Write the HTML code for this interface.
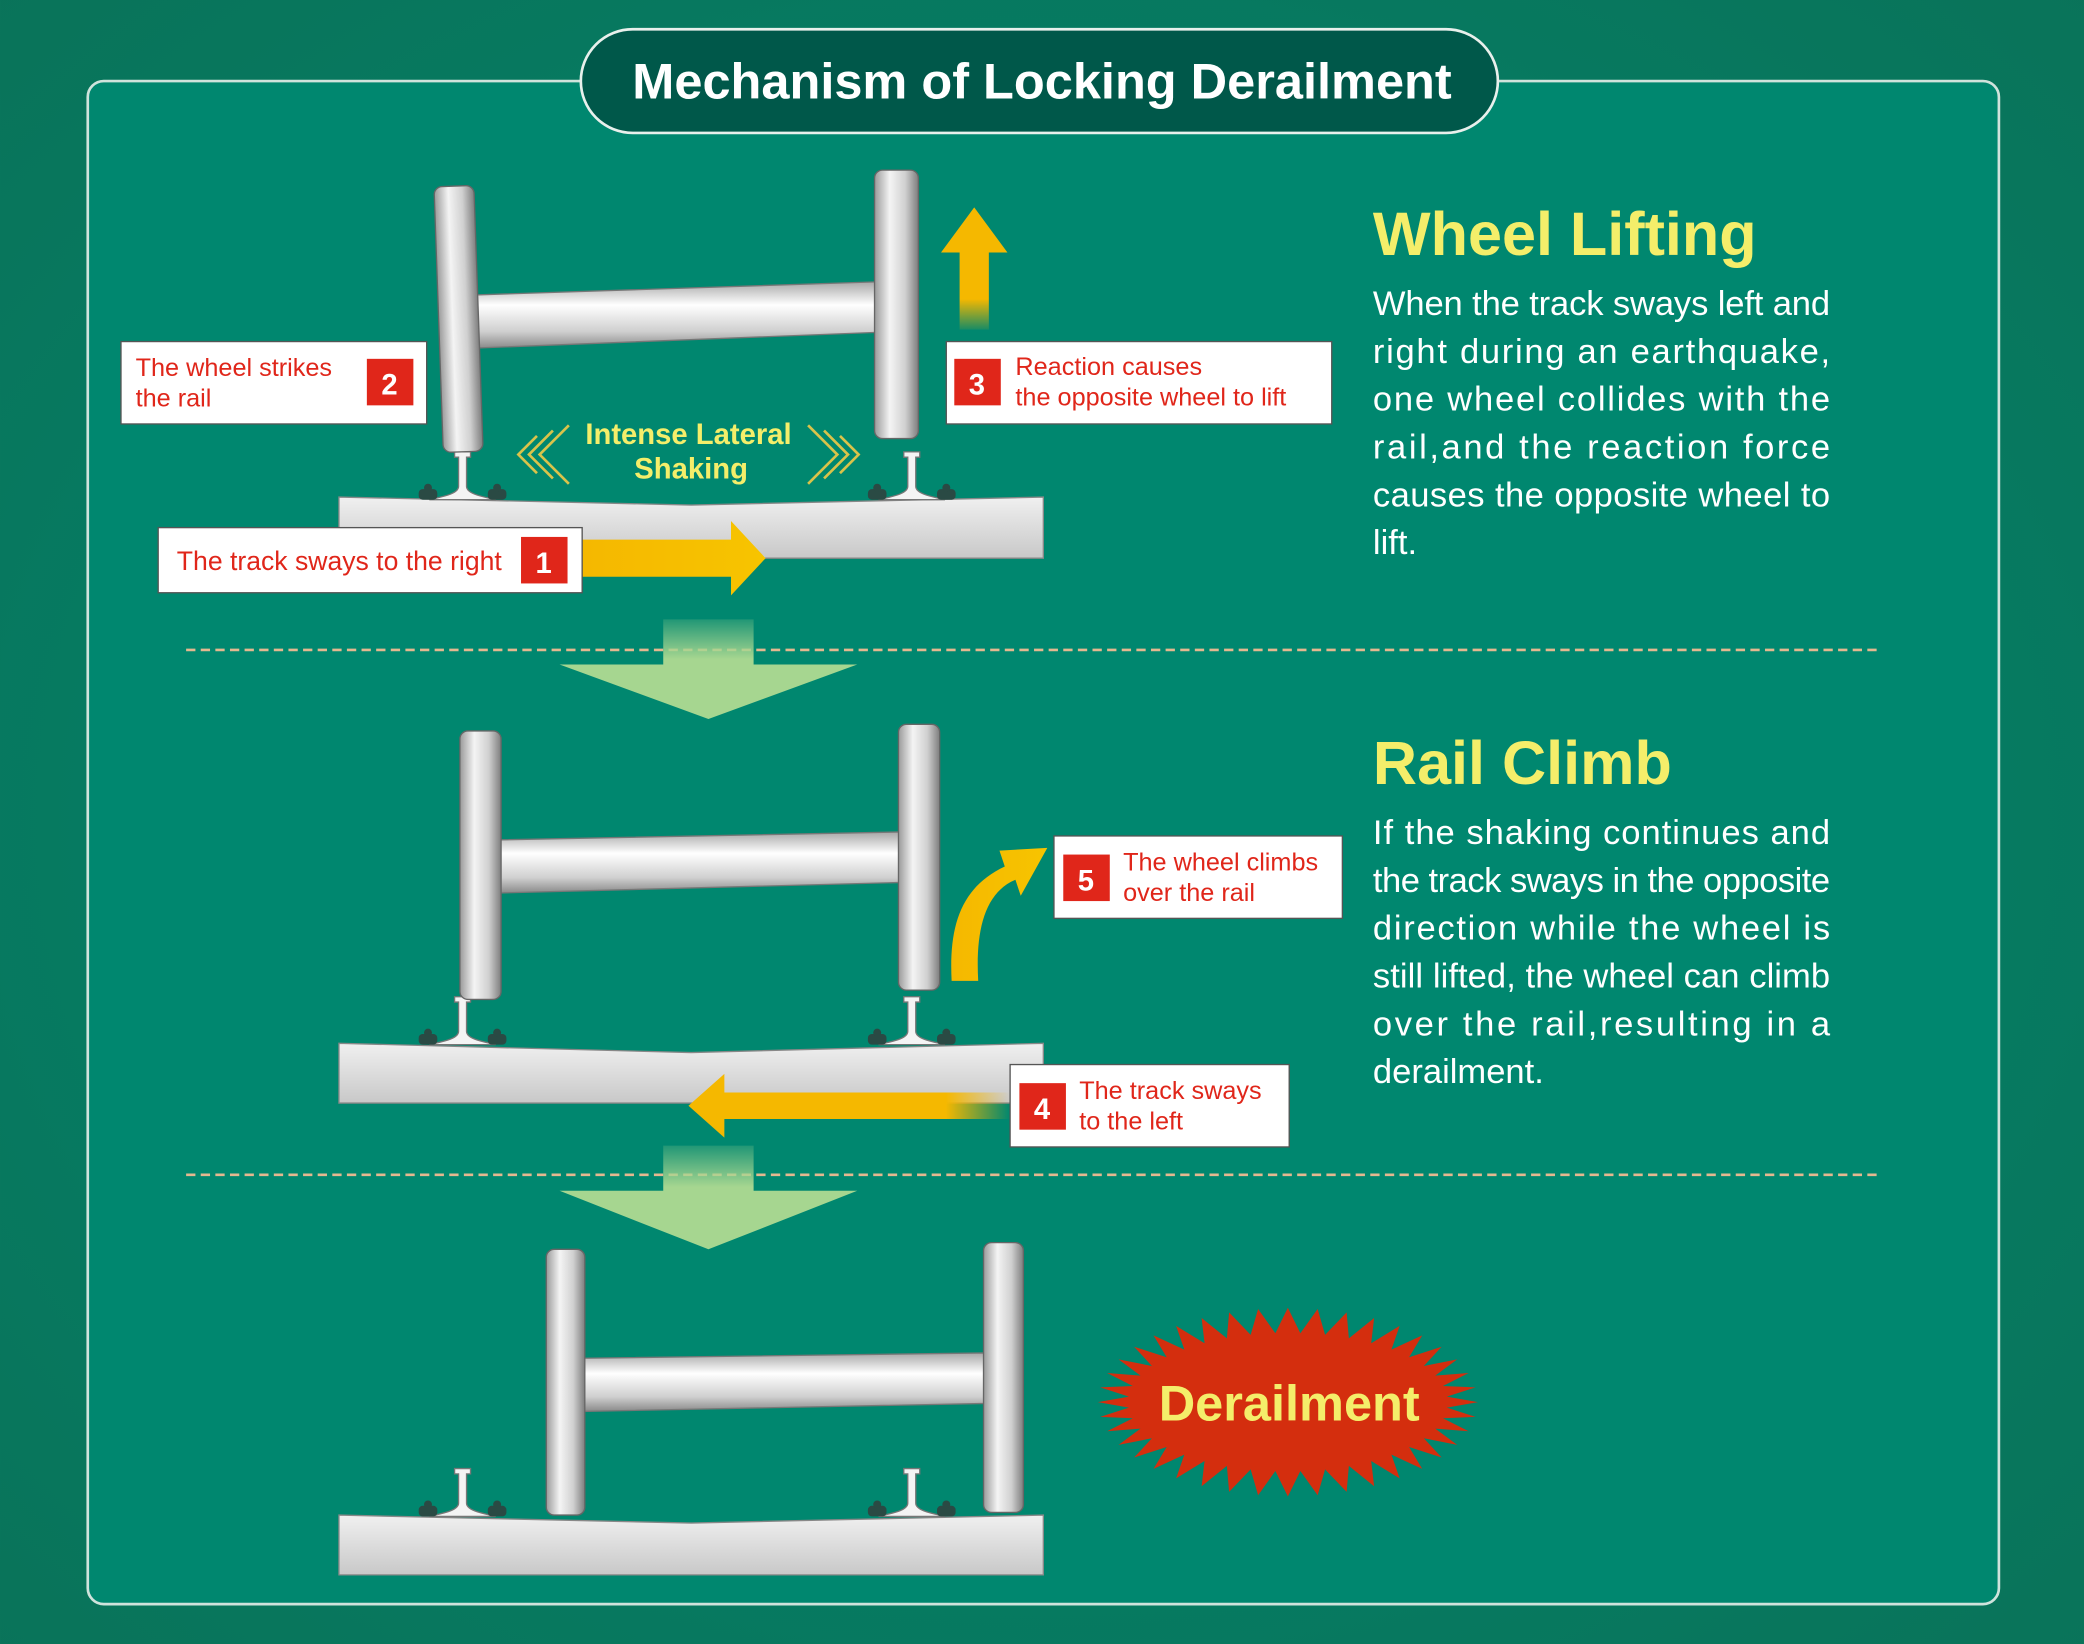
<!DOCTYPE html>
<html><head><meta charset="utf-8"><style>
html,body{margin:0;padding:0;background:#0b7a5f}
svg{display:block}
text{font-family:"Liberation Sans","DejaVu Sans",sans-serif}
</style></head><body>
<svg width="2084" height="1644" viewBox="0 0 1568 1237" xmlns="http://www.w3.org/2000/svg">
<defs>
<radialGradient id="bg" cx="50%" cy="50%" r="75%"><stop offset="0" stop-color="#00876f"/><stop offset="1" stop-color="#0a7258"/></radialGradient>
<linearGradient id="whl" x1="0" x2="1" y1="0" y2="0"><stop offset="0" stop-color="#9a9a9a"/><stop offset=".35" stop-color="#f4f4f4"/><stop offset=".7" stop-color="#d0d0d0"/><stop offset="1" stop-color="#7e7e7e"/></linearGradient>
<linearGradient id="axl" x1="0" x2="0" y1="0" y2="1"><stop offset="0" stop-color="#a8a8a8"/><stop offset=".35" stop-color="#ffffff"/><stop offset=".75" stop-color="#cfcfcf"/><stop offset="1" stop-color="#8a8a8a"/></linearGradient>
<linearGradient id="slab" x1="0" x2="0" y1="0" y2="1"><stop offset="0" stop-color="#f0f0f0"/><stop offset="1" stop-color="#c8c8c8"/></linearGradient>
<linearGradient id="ya" x1="0" x2="1"><stop offset="0" stop-color="#f5b800"/><stop offset="1" stop-color="#f7c400"/></linearGradient>
<linearGradient id="yu" x1="0" x2="0" y1="0" y2="1"><stop offset="0" stop-color="#f5b800"/><stop offset=".75" stop-color="#f5b800"/><stop offset="1" stop-color="#f5b800" stop-opacity=".1"/></linearGradient>
<linearGradient id="yl2" x1="0" x2="1"><stop offset="0" stop-color="#f5b800"/><stop offset=".8" stop-color="#f5b800"/><stop offset="1" stop-color="#f5b800" stop-opacity="0"/></linearGradient>
<linearGradient id="gd" x1="0" x2="0" y1="0" y2="1"><stop offset="0" stop-color="#a6d690" stop-opacity=".2"/><stop offset=".4" stop-color="#a6d690"/><stop offset="1" stop-color="#a6d690"/></linearGradient>
<g id="rail"><path d="M-6 0h12v4h-3v22c0 6 14 8 22 10h-50c8-2 22-4 22-10v-22h-3z" fill="#f4f4f4" stroke="#777" stroke-width="1"/>
<rect x="-33" y="28" width="14" height="8" rx="3" fill="#2a4a44"/><rect x="19" y="28" width="14" height="8" rx="3" fill="#2a4a44"/>
<circle cx="-26" cy="27" r="3" fill="#2a4a44"/><circle cx="26" cy="27" r="3" fill="#2a4a44"/></g>
</defs>
<rect width="1568" height="1237" fill="url(#bg)"/>
<rect x="66" y="61" width="1438" height="1146" rx="12" fill="#00876f" stroke="#cfe3dc" stroke-width="2"/>
<rect x="437" y="22" width="690" height="78" rx="39" fill="#00584a" stroke="#e8f0ec" stroke-width="2"/>
<text x="784" y="74" text-anchor="middle" font-size="38" font-weight="bold" fill="#fff">Mechanism of Locking Derailment</text>

<line x1="140" y1="489" x2="1416" y2="489" stroke="#e4b890" stroke-width="2" stroke-dasharray="7,4"/>
<line x1="140" y1="884" x2="1416" y2="884" stroke="#e4b890" stroke-width="2" stroke-dasharray="7,4"/>
<path d="M499 466h68v34h78l-112 41-112-41h78z" fill="url(#gd)"/>
<path d="M499 862h68v34h78l-112 44-112-44h78z" fill="url(#gd)"/>

<!-- SET 1 -->
<path d="M255 374 L520 380 L785 374 V420 H255Z" fill="url(#slab)" stroke="#888"/>
<use href="#rail" x="348" y="340"/><use href="#rail" x="686" y="340"/>
<path d="M355 222 L662 212 L662 250 L355 262Z" fill="url(#axl)" stroke="#777"/>
<rect x="330" y="140" width="30" height="200" rx="6" fill="url(#whl)" stroke="#666" transform="rotate(-2 345 240)"/>
<rect x="658" y="128" width="33" height="202" rx="6" fill="url(#whl)" stroke="#666"/>
<path d="M438 406h112v-14l26 28-26 28v-14h-112z" fill="url(#ya)"/>
<path d="M722 248v-58h-14l25-34 25 34h-14v58z" fill="url(#yu)"/>
<text x="518" y="334" text-anchor="middle" font-size="22" font-weight="bold" fill="#f4ee6a">Intense Lateral</text>
<text x="520" y="360" text-anchor="middle" font-size="22" font-weight="bold" fill="#f4ee6a">Shaking</text>
<path d="M428 320l-22 22 22 22M416 324l-18 18 18 18M404 328l-14 14 14 14" fill="none" stroke="#d9c34a" stroke-width="2"/>
<path d="M608 320l22 22-22 22M620 324l18 18-18 18M632 328l14 14-14 14" fill="none" stroke="#d9c34a" stroke-width="2"/>
<rect x="91" y="257" width="230" height="62" fill="#fff" stroke="#555"/>
<text x="102" y="283" font-size="19" fill="#e0261a">The wheel strikes</text><text x="102" y="306" font-size="19" fill="#e0261a">the rail</text>
<rect x="276" y="270" width="35" height="35" fill="#e0261a"/><text x="293" y="297" text-anchor="middle" font-size="22" font-weight="bold" fill="#fff">2</text>
<rect x="712" y="257" width="290" height="62" fill="#fff" stroke="#555"/>
<rect x="718" y="270" width="35" height="35" fill="#e0261a"/><text x="735" y="297" text-anchor="middle" font-size="22" font-weight="bold" fill="#fff">3</text>
<text x="764" y="282" font-size="19" fill="#e0261a">Reaction causes</text><text x="764" y="305" font-size="19" fill="#e0261a">the opposite wheel  to lift</text>
<rect x="119" y="397" width="319" height="49" fill="#fff" stroke="#555"/>
<text x="133" y="429" font-size="20" fill="#e0261a">The track sways to the right</text>
<rect x="392" y="404" width="35" height="35" fill="#e0261a"/><text x="409" y="431" text-anchor="middle" font-size="22" font-weight="bold" fill="#fff">1</text>

<!-- SET 2 -->
<path d="M255 785 L520 792 L785 785 V830 H255Z" fill="url(#slab)" stroke="#888"/>
<use href="#rail" x="348" y="750"/><use href="#rail" x="686" y="750"/>
<path d="M372 632 L678 626 L678 664 L372 672Z" fill="url(#axl)" stroke="#777"/>
<rect x="346" y="550" width="31" height="202" rx="6" fill="url(#whl)" stroke="#666"/>
<rect x="676" y="545" width="31" height="200" rx="6" fill="url(#whl)" stroke="#666"/>
<path d="M545 822h215v20h-215v14l-27-24 27-24z" fill="url(#yl2)"/>
<path d="M716 738c-2-40 6-70 40-86l-4-12 36-2-20 36-4-12c-24 10-30 40-28 76z" fill="url(#ya)"/>
<rect x="793" y="629" width="217" height="62" fill="#fff" stroke="#555"/>
<rect x="800" y="643" width="35" height="35" fill="#e0261a"/><text x="817" y="670" text-anchor="middle" font-size="22" font-weight="bold" fill="#fff">5</text>
<text x="845" y="655" font-size="19" fill="#e0261a">The wheel climbs</text><text x="845" y="678" font-size="19" fill="#e0261a">over the rail</text>
<rect x="760" y="801" width="210" height="62" fill="#fff" stroke="#555"/>
<rect x="767" y="815" width="35" height="35" fill="#e0261a"/><text x="784" y="842" text-anchor="middle" font-size="22" font-weight="bold" fill="#fff">4</text>
<text x="812" y="827" font-size="19" fill="#e0261a">The track sways</text><text x="812" y="850" font-size="19" fill="#e0261a">to the left</text>

<!-- SET 3 -->
<path d="M255 1140 L520 1146 L785 1140 V1185 H255Z" fill="url(#slab)" stroke="#888"/>
<use href="#rail" x="348" y="1105"/><use href="#rail" x="686" y="1105"/>
<path d="M438 1022 L742 1018 L742 1056 L438 1062Z" fill="url(#axl)" stroke="#777"/>
<rect x="411" y="940" width="29" height="200" rx="6" fill="url(#whl)" stroke="#666"/>
<rect x="740" y="935" width="30" height="203" rx="6" fill="url(#whl)" stroke="#666"/>
<polygon id="burst" fill="#d42e0e" points=""/>
<text x="970" y="1069" text-anchor="middle" font-size="38" font-weight="bold" fill="#f4ee6a">Derailment</text>

<g fill="#fff" font-size="26">
<text x="1033" y="192" font-size="46" font-weight="bold" fill="#f4ee6a">Wheel Lifting</text>
<text x="1033" y="237" textLength="344" lengthAdjust="spacing">When the track sways left and</text>
<text x="1033" y="273" textLength="344" lengthAdjust="spacing">right during an earthquake,</text>
<text x="1033" y="309" textLength="344" lengthAdjust="spacing">one wheel collides with the</text>
<text x="1033" y="345" textLength="344" lengthAdjust="spacing">rail,and the reaction force</text>
<text x="1033" y="381" textLength="344" lengthAdjust="spacing">causes the opposite wheel to</text>
<text x="1033" y="417">lift.</text>
<text x="1033" y="590" font-size="46" font-weight="bold" fill="#f4ee6a">Rail Climb</text>
<text x="1033" y="635" textLength="344" lengthAdjust="spacing">If the shaking continues and</text>
<text x="1033" y="671" textLength="344" lengthAdjust="spacing">the track sways in the opposite</text>
<text x="1033" y="707" textLength="344" lengthAdjust="spacing">direction while the wheel is</text>
<text x="1033" y="743" textLength="344" lengthAdjust="spacing">still lifted, the wheel can climb</text>
<text x="1033" y="779" textLength="344" lengthAdjust="spacing">over the rail,resulting in a</text>
<text x="1033" y="815">derailment.</text>
</g>
</svg>
<script>
(function(){var n=40,p=[],cx=969,cy=1055;for(var i=0;i<n*2;i++){var a=Math.PI*2*i/(n*2);var o=i%2==0;var rx=o?143:120,ry=o?71:52;p.push((cx+rx*Math.cos(a)).toFixed(1)+","+(cy+ry*Math.sin(a)).toFixed(1));}
document.getElementById("burst").setAttribute("points",p.join(" "));})();
</script>
</body></html>
